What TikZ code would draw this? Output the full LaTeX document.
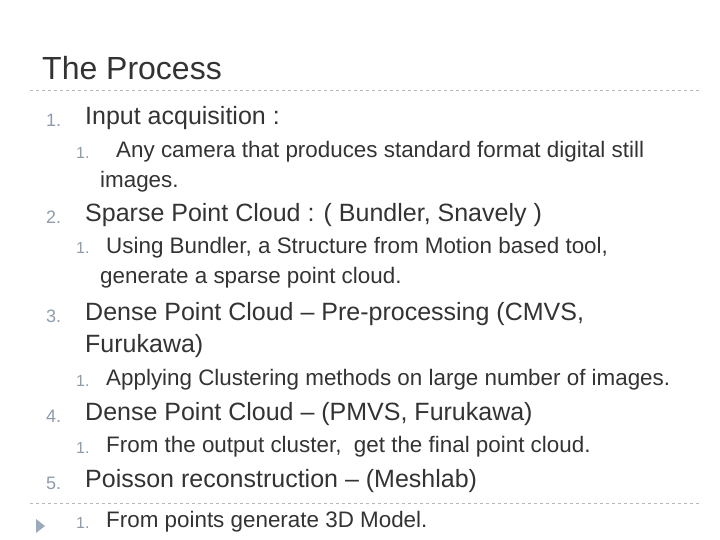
\documentclass[tikz,border=0pt]{standalone}
\usepackage{fontspec}
\setmainfont{Liberation Sans}
\definecolor{txt}{HTML}{333333}
\definecolor{num}{HTML}{8C9BAE}
\definecolor{tri}{HTML}{9AAABD}
\definecolor{rule}{HTML}{B8B8B8}
\begin{document}
\begin{tikzpicture}[x=1pt,y=-1pt,
  every node/.style={inner sep=0pt,anchor=base west,text=txt},
  ttl/.style={font=\fontsize{32}{34}\selectfont},
  lone/.style={font=\fontsize{25}{27}\selectfont},
  ltwo/.style={font=\fontsize{22.4}{24}\selectfont},
  nonum/.style={font=\fontsize{18}{20}\selectfont,text=num},
  ntwo/.style={font=\fontsize{16}{18}\selectfont,text=num},
  sep/.style={draw=rule,dashed,line width=0.6pt}]
\useasboundingbox (0,0) rectangle (720,540);
\node[ttl] (title) at (42,80) {The Process};
\coordinate (r1a) at (30,90); \coordinate (r1b) at (702,90);
\draw[sep] (r1a) -- (r1b);
\node[nonum] (n1) at (46,127) {1.};
\node[lone] (t1) at (85,125) {Input acquisition :};
\node[ntwo] (n11) at (76,159) {1.};
\node[ltwo] (t11) at (116,158) {Any camera that produces standard format digital still};
\node[ltwo] (t11b) at (100,188) {images.};
\node[nonum] (n2) at (46,224) {2.};
\node[lone] (t2) at (85,222) {Sparse Point Cloud : ( Bundler, Snavely )};
\node[ntwo] (n21) at (76,254) {1.};
\node[ltwo] (t21) at (106,253) {Using Bundler, a Structure from Motion based tool,};
\node[ltwo] (t21b) at (100,283) {generate a sparse point cloud.};
\node[nonum] (n3) at (46,322) {3.};
\node[lone] (t3) at (85,320) {Dense Point Cloud – Pre-processing (CMVS,};
\node[lone] (t3b) at (85,352) {Furukawa)};
\node[ntwo] (n31) at (76,386) {1.};
\node[ltwo] (t31) at (106,385) {Applying Clustering methods on large number of images.};
\node[nonum] (n4) at (46,422) {4.};
\node[lone] (t4) at (85,420) {Dense Point Cloud – (PMVS, Furukawa)};
\node[ntwo] (n41) at (76,453) {1.};
\node[ltwo] (t41) at (106,452) {From the output cluster,\ \ get the final point cloud.};
\node[nonum] (n5) at (46,489) {5.};
\node[lone] (t5) at (85,487) {Poisson reconstruction – (Meshlab)};
\coordinate (r2a) at (30,503); \coordinate (r2b) at (702,503);
\draw[sep] (r2a) -- (r2b);
\coordinate (ta) at (36,519); \coordinate (tb) at (36,533); \coordinate (tc) at (45,526);
\fill[tri] (ta) -- (tc) -- (tb) -- cycle;
\node[ntwo] (n51) at (76,528) {1.};
\node[ltwo] (t51) at (106,527) {From points generate 3D Model.};
\end{tikzpicture}
\end{document}
